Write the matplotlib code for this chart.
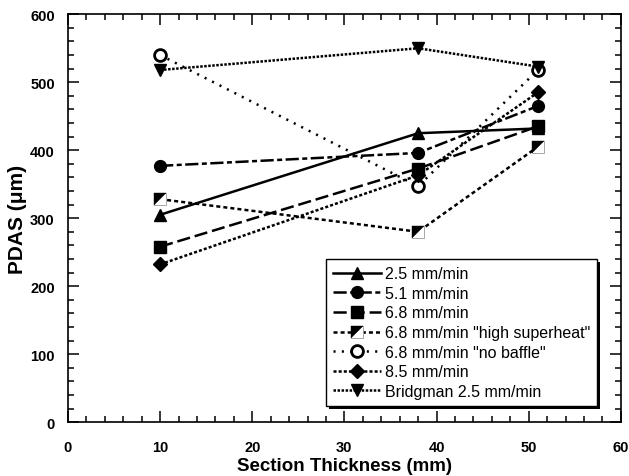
import numpy as np
import matplotlib
matplotlib.use("Agg")
import matplotlib.pyplot as plt
from matplotlib.path import Path
from matplotlib.legend_handler import HandlerTuple
from matplotlib.patches import Rectangle

plt.rcParams['font.family'] = ['Liberation Sans', 'DejaVu Sans']
plt.rcParams['lines.scale_dashes'] = False

# section thickness (mm)
thickness = [10, 38, 51]

# PDAS values (um)
pdas_25 = [305, 425, 432]
pdas_51 = [377, 396, 465]
pdas_68 = [258, 373, 435]
pdas_68_hs = [328, 280, 405]
pdas_68_nb = [540, 347, 518]
pdas_85 = [232, 363, 485]
pdas_bridgman = [518, 550, 523]

labels = ['2.5 mm/min', '5.1 mm/min', '6.8 mm/min',
          '6.8 mm/min "high superheat"', '6.8 mm/min "no baffle"',
          '8.5 mm/min', 'Bridgman 2.5 mm/min']

fig = plt.figure(figsize=(6.29, 4.77), dpi=100)
ax = fig.add_axes([0.108, 0.113, 0.879, 0.855])

lw = 1.8
ms = 8.5
handles = []

h, = ax.plot(thickness, pdas_25, color='black', lw=lw, marker='^', ms=ms)
handles.append(h)
h, = ax.plot(thickness, pdas_51, color='black', lw=lw, marker='o', ms=ms,
             dashes=(9.5, 2.5, 3.6, 2.5))
handles.append(h)
h, = ax.plot(thickness, pdas_68, color='black', lw=lw, marker='s', ms=ms,
             dashes=(9.5, 3.5))
handles.append(h)

# half filled square: white square + black upper-left triangle
tri = Path([(-1, -1), (-1, 1), (1, 1), (-1, -1)],
           [Path.MOVETO, Path.LINETO, Path.LINETO, Path.CLOSEPOLY])
h1, = ax.plot(thickness, pdas_68_hs, color='black', lw=lw, dashes=(2.9, 2.2),
              marker='s', ms=ms, mfc='white', mec='#999999', mew=0.6)
h2, = ax.plot(thickness, pdas_68_hs, ls='none', marker=tri, ms=ms,
              mfc='black', mec='black', mew=0.3)
handles.append((h1, h2))

h, = ax.plot(thickness, pdas_68_nb, color='black', lw=lw, dashes=(1.5, 4.5),
             marker='o', ms=ms, mfc='white', mec='black', mew=2.0)
handles.append(h)
h, = ax.plot(thickness, pdas_85, color='black', lw=lw, dashes=(2.2, 1.5),
             marker='D', ms=7.5)
handles.append(h)
h, = ax.plot(thickness, pdas_bridgman, color='black', lw=lw, dashes=(1.8, 1.1),
             marker='v', ms=ms)
handles.append(h)

ax.set_xlim(0, 60)
ax.set_ylim(0, 600)
ax.set_xticks(np.arange(0, 61, 10))
ax.set_yticks(np.arange(0, 601, 100))
ax.set_xticks(np.arange(0, 61, 2), minor=True)
ax.set_yticks(np.arange(0, 601, 20), minor=True)
ax.tick_params(which='both', direction='in', top=True, right=True, width=1.1)
ax.tick_params(which='major', length=8, labelsize=10.5)
ax.tick_params(axis='x', which='major', pad=13)
ax.tick_params(axis='y', which='major', pad=9.5)
ax.tick_params(which='minor', length=4)
for lab in ax.get_xticklabels() + ax.get_yticklabels():
    lab.set_fontweight('bold')
for sp in ax.spines.values():
    sp.set_linewidth(1.2)

ax.set_xlabel('Section Thickness (mm)', fontsize=13.5, fontweight='bold', labelpad=2)
ax.set_ylabel('PDAS (\u03bcm)', fontsize=15, fontweight='bold', labelpad=2)

# legend with drop shadow
leg = ax.legend(handles, labels, loc='lower right',
                bbox_to_anchor=(0.957, 0.039),
                handler_map={tuple: HandlerTuple(ndivide=1, pad=0)},
                fontsize=11.5, handlelength=3.0, handletextpad=0.25, labelspacing=0.29,
                borderpad=0.45, frameon=True, fancybox=False, framealpha=1,
                edgecolor='black', borderaxespad=0)
leg.get_frame().set_linewidth(1.0)
fig.canvas.draw()
bb = leg.get_window_extent().transformed(ax.transAxes.inverted())
shadow = Rectangle((bb.x0 + 0.006, bb.y0 - 0.008), bb.width, bb.height,
                   transform=ax.transAxes, facecolor='black', edgecolor='none',
                   zorder=leg.get_zorder() - 0.1)
ax.add_patch(shadow)

fig.savefig('out.png', dpi=100)
